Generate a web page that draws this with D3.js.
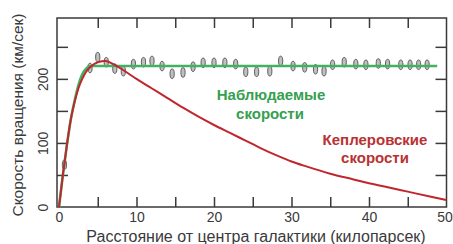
<!DOCTYPE html>
<html>
<head>
<meta charset="utf-8">
<script src="https://cdn.jsdelivr.net/npm/d3@7"></script>
<style>
  body { margin: 0; background: #fff; }
  text { font-family: "Liberation Sans", Arial, sans-serif; }
</style>
</head>
<body>
<div id="chart"></div>
<script>
// radius, kpc / velocity, km/s
const keplerR = [0, 0.5, 1, 1.5, 2, 2.5, 3, 3.5, 4, 5, 6, 7, 8, 9, 10, 12, 14, 16, 18, 20, 22, 24, 26, 28, 30, 32, 35, 38, 40, 42, 45, 48, 50];
const keplerV = [0, 50, 95, 135, 163, 185, 200, 211, 218, 226, 228, 223, 216, 208, 200, 185, 170, 155, 141, 128, 116, 104, 92, 81, 71, 63, 52, 43, 37, 32, 24, 16, 11];

const observedR = [0, 0.5, 1, 1.5, 2, 2.5, 3, 3.5, 4, 48.8];
const observedV = [0, 50, 95, 135, 165, 190, 207, 216, 220, 220];

// measured points (ovals)
const pointR = [0.7, 4.0, 5.0, 6.1, 7.2, 8.3, 9.6, 10.9, 12.0, 13.3, 14.6, 16.0, 17.3, 18.6, 20.0, 21.4, 22.8, 24.1, 25.5, 27.2, 28.6, 30.2, 31.7, 33.1, 34.2, 35.3, 36.8, 38.3, 39.6, 41.2, 42.4, 44.1, 45.3, 46.4, 47.5];
const pointV = [66, 217, 234, 226, 216, 212, 223, 226, 228, 220, 208, 210, 219, 225, 225, 225, 223, 211, 211, 212, 228, 220, 218, 215, 212, 222, 226, 223, 222, 224, 223, 222, 222, 222, 222];

const xTicks = [0, 5, 10, 15, 20, 25, 30, 35, 40, 45, 50];
const yTicks = [0, 50, 100, 150, 200, 250];

const width = 453;
const height = 244;

const x = d3.scaleLinear().domain([0, 50]).range([59, 446.5]);
const y = d3.scaleLinear().domain([0, 295]).range([207, 18]);

const frame = {left: 57, right: 446.5, top: y(295), bottom: y(0)};

const svg = d3.select('#chart')
  .append('svg')
  .attr('width', width)
  .attr('height', height);

const axisColor = '#3a3a3a';

// frame
svg.append('rect')
  .attr('x', frame.left)
  .attr('y', frame.top)
  .attr('width', frame.right - frame.left)
  .attr('height', frame.bottom - frame.top)
  .attr('fill', 'none')
  .attr('stroke', axisColor)
  .attr('stroke-width', 1.5);

function styleAxis(g) {
  g.select('.domain').remove();
  g.selectAll('line').attr('stroke', axisColor).attr('stroke-width', 1.5);
  g.selectAll('text')
    .attr('fill', axisColor)
    .style('font-size', '14px')
    .style('font-family', '"Liberation Sans", Arial, sans-serif');
}

// bottom axis
svg.append('g')
  .attr('transform', `translate(0,${frame.bottom})`)
  .call(d3.axisBottom(x).tickValues(xTicks).tickSize(-10).tickPadding(5.5)
    .tickFormat(d => d % 10 === 0 ? d : ''))
  .call(styleAxis)
  .call(g => g.selectAll('.tick').filter(d => d === 0 || d === 50).select('line').remove())
  .call(g => g.selectAll('.tick').filter(d => d === 50).select('text').attr('x', -2));

// top axis
svg.append('g')
  .attr('transform', `translate(0,${frame.top})`)
  .call(d3.axisTop(x).tickValues(xTicks.slice(1, -1)).tickSize(-10).tickFormat(''))
  .call(styleAxis);

// left axis
svg.append('g')
  .attr('transform', `translate(${frame.left},0)`)
  .call(d3.axisLeft(y).tickValues(yTicks).tickSize(-11)
    .tickFormat(d => d % 100 === 0 ? d : ''))
  .call(styleAxis)
  .call(g => g.selectAll('.tick').filter(d => d === 0).select('line').remove())
  .call(g => g.selectAll('.tick text')
    .attr('x', null)
    .attr('dy', '0.35em')
    .attr('text-anchor', 'middle')
    .attr('transform', 'translate(-14,0) rotate(-90)'));

// right axis
svg.append('g')
  .attr('transform', `translate(${frame.right},0)`)
  .call(d3.axisRight(y).tickValues(yTicks.slice(1)).tickSize(-11).tickFormat(''))
  .call(styleAxis);

// measured points
svg.append('g')
  .selectAll('ellipse')
  .data(pointR.map((r, i) => [r, pointV[i]]))
  .join('ellipse')
  .attr('cx', d => x(d[0]))
  .attr('cy', d => y(d[1]))
  .attr('rx', 2.1)
  .attr('ry', 4.8)
  .attr('fill', '#c0c0c0')
  .attr('stroke', '#5e5e5e')
  .attr('stroke-width', 1);

const line = d3.line()
  .x(d => x(d[0]))
  .y(d => y(d[1]))
  .curve(d3.curveMonotoneX);

// observed curve
svg.append('path')
  .datum(observedR.map((r, i) => [r, observedV[i]]))
  .attr('fill', 'none')
  .attr('stroke', '#43b062')
  .attr('stroke-width', 2.6)
  .attr('d', line);

// keplerian curve
svg.append('path')
  .datum(keplerR.map((r, i) => [r, keplerV[i]]))
  .attr('fill', 'none')
  .attr('stroke', '#c0272d')
  .attr('stroke-width', 2)
  .attr('d', line);

// annotations
const green = '#35a050';
const red = '#b83232';
const label = (tx, ty, txt, color) => svg.append('text')
  .attr('x', tx).attr('y', ty).attr('dy', '0.35em')
  .attr('text-anchor', 'middle').attr('fill', color)
  .style('font-size', '15px').style('font-weight', 'bold')
  .text(txt);
label(271, 95, 'Наблюдаемые', green);
label(270, 114, 'скорости', green);
label(375, 140, 'Кеплеровские', red);
label(375, 158, 'скорости', red);

// axis titles
svg.append('text')
  .attr('x', 256).attr('y', 242)
  .attr('text-anchor', 'middle')
  .attr('fill', axisColor)
  .style('font-size', '16px')
  .text('Расстояние от центра галактики (килопарсек)');

svg.append('text')
  .attr('transform', 'translate(18,115) rotate(-90)')
  .attr('dy', '0.35em')
  .attr('text-anchor', 'middle')
  .attr('fill', axisColor)
  .style('font-size', '15.5px')
  .text('Скорость вращения (км/сек)');
</script>
</body>
</html>
